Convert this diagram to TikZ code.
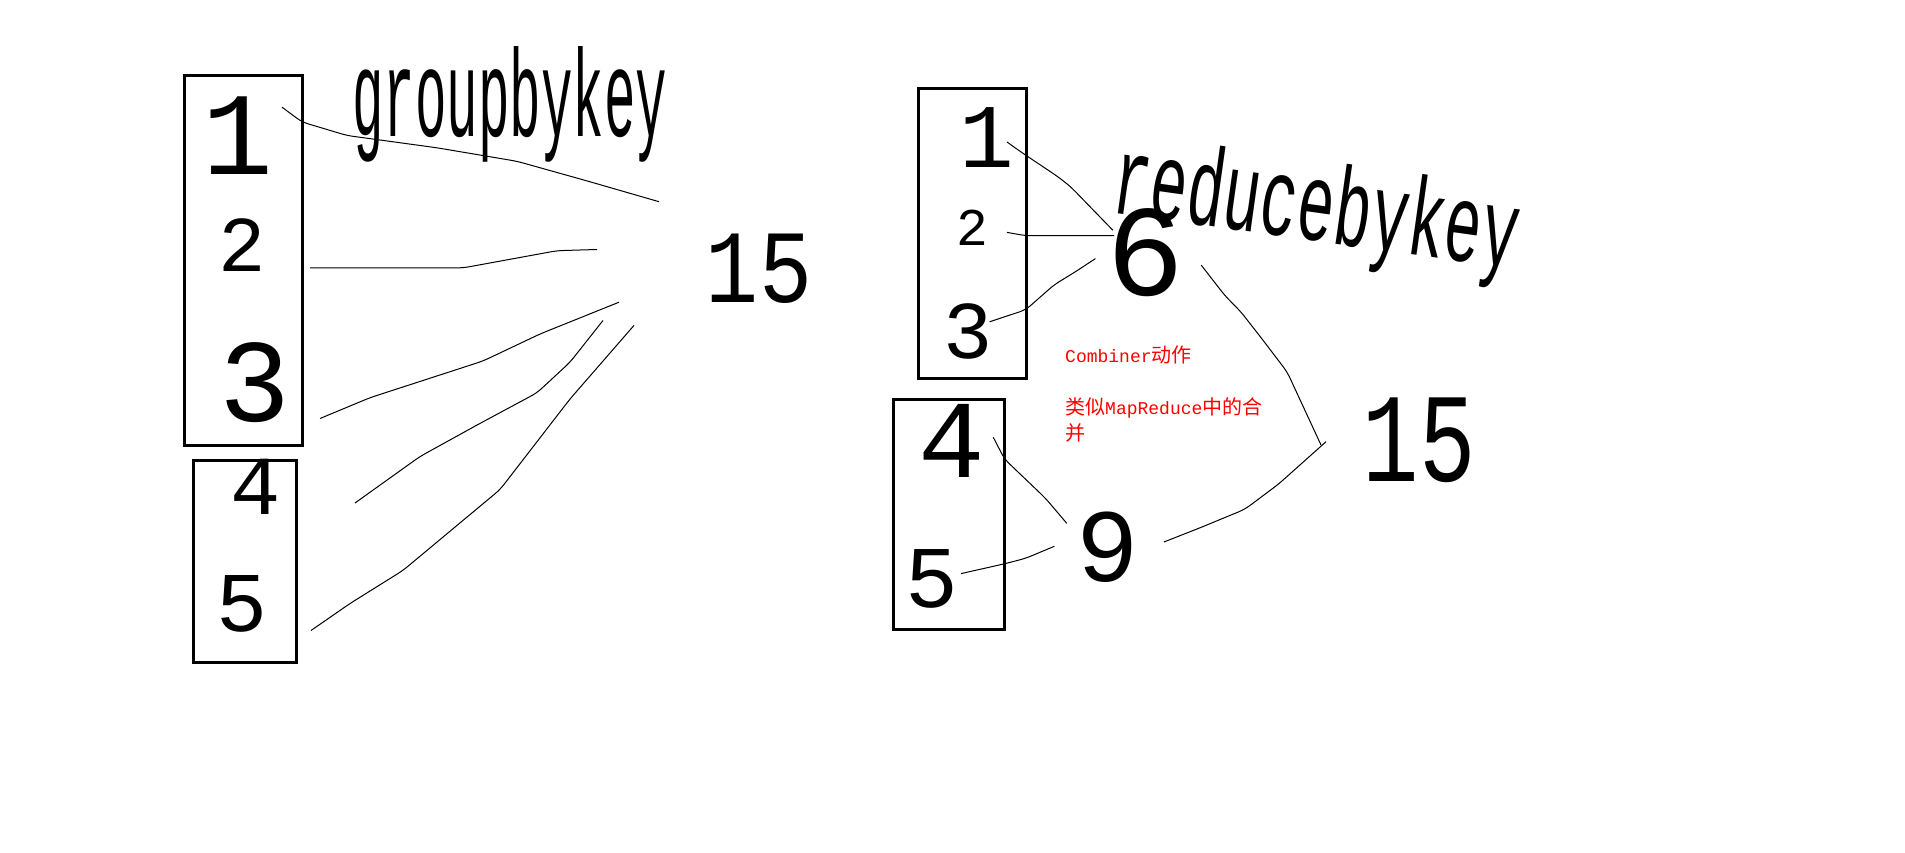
\documentclass[tikz,border=0pt]{standalone}
\usepackage{fontspec}
\setmainfont{Liberation Mono}
\newfontfamily\cjk{Noto Sans CJK SC}
\newfontfamily\hand{Liberation Mono}
\newcommand{\hs}[1]{\fontsize{#1}{#1}\selectfont\hand}
\newcommand{\zh}[1]{{\fontsize{20}{26}\selectfont\cjk #1}}
\begin{document}
\begin{tikzpicture}[x=1pt,y=-1pt,
  grp/.style={draw=black,line width=3pt,inner sep=0pt,outer sep=0pt},
  dig/.style={inner sep=0pt,outer sep=0pt,text=black},
  conn/.style={draw=black,line width=1pt,rounded corners=6pt},
  note/.style={text=red,align=left,anchor=north west,inner sep=0pt}]
\useasboundingbox (0,0) rectangle (1905,853);
\fill[white] (0,0) rectangle (1905,853);
% groups
\node[grp,minimum width=118,minimum height=370] (b1) at (243,260.5) {};
\node[grp,minimum width=103,minimum height=202] (b2) at (244.5,561) {};
\node[grp,minimum width=108,minimum height=290] (b3) at (972.7,233.5) {};
\node[grp,minimum width=111,minimum height=230] (b4) at (949,514) {};
% left digits
\node[dig,font=\hs{118}] (a1) at (238,135.5) {1};
\node[dig,font=\hs{79}] (a2) at (242,244.6) {2};
\node[dig,font=\hs{118}] (a3) at (255,383) {3};
\node[dig,font=\hs{84}] (a4) at (256,487) {4};
\node[dig,font=\hs{85}] (a5) at (242,603.5) {5};
\node[dig,font=\hs{104},xscale=0.85] (s1) at (759,269) {15};
\node[dig,font=\hs{60},xscale=0.875,yscale=2.07] (gk) at (510,104) {groupbykey};
% right digits
\node[dig,font=\hs{91}] (c1) at (987,137.6) {1};
\node[dig,font=\hs{53}] (c2) at (972,228) {2};
\node[dig,font=\hs{82}] (c3) at (968.4,331.6) {3};
\node[dig,font=\hs{111}] (c4) at (952.2,440.6) {4};
\node[dig,font=\hs{88}] (c5) at (932.3,579) {5};
\node[dig,font=\hs{130}] (six) at (1145.2,253) {6};
\node[dig,font=\hs{104}] (nine) at (1107.8,547.4) {9};
\node[dig,font=\hs{127},xscale=0.74] (s2) at (1419,440.6) {15};
\node[dig,font=\hs{62},rotate=-8,yscale=1.8] (rk) at (1316,212) {reducebykey};
% note
\node[note,font=\fontsize{18}{26}\selectfont] (nt) at (1065,346)
  {Combiner\zh{动作}\\[26pt]\zh{类似}MapReduce\zh{中的合}\\\zh{并}};
% connector endpoints
\coordinate (l1s) at (282,107.2); \coordinate (l1e) at (659,201.7);
\coordinate (l2s) at (310,267.9); \coordinate (l2e) at (597,249.5);
\coordinate (l3s) at (320,418.5); \coordinate (l3e) at (619,302.2);
\coordinate (l4s) at (355,503); \coordinate (l4e) at (603,320.5);
\coordinate (l5s) at (311,630.5); \coordinate (l5e) at (634,325.4);
\coordinate (r1s) at (1007,142); \coordinate (r1e) at (1112.8,230.2);
\coordinate (r2s) at (1007,232.4); \coordinate (r2e) at (1114,235.7);
\coordinate (r3s) at (989.6,321.8); \coordinate (r3e) at (1095.4,258.6);
\coordinate (r4s) at (993.3,437.3); \coordinate (r4e) at (1066.8,523.4);
\coordinate (r5s) at (961,573.6); \coordinate (r5e) at (1054.3,546.3);
\coordinate (r6s) at (1201.2,265.1); \coordinate (r6e) at (1321,445);
\coordinate (r7s) at (1163.9,542); \coordinate (r7e) at (1326,441.7);
% left connectors
\draw[conn] (l1s) -- (302,122) -- (347,135.5) -- (437,147.8) -- (517,161.3) -- (587,180.9) -- (l1e);
\draw[conn] (l2s) -- (463,267.9) -- (557,250.7) -- (l2e);
\draw[conn] (l3s) -- (370,397.7) -- (483,361) -- (540,334) -- (l3e);
\draw[conn] (l4s) -- (420,456.5) -- (480,423.4) -- (537,392.8) -- (570,362.2) -- (l4e);
\draw[conn] (l5s) -- (350,603.5) -- (403,570.4) -- (500,489.6) -- (570,399) -- (l5e);
% right connectors
\draw[conn] (r1s) -- (1020.7,151.8) -- (1058,176.8) -- (1070.5,186.6) -- (r1e);
\draw[conn] (r2s) -- (1025.7,235.7) -- (r2e);
\draw[conn] (r3s) -- (1025.7,309.8) -- (1054.3,284.7) -- (1075.5,271.7) -- (r3e);
\draw[conn] (r4s) -- (1004.5,459.1) -- (1045.6,498.4) -- (r4e);
\draw[conn] (r5s) -- (1004.5,563.8) -- (1025.7,558.3) -- (r5e);
\draw[conn] (r6s) -- (1224.9,295.6) -- (1241,312) -- (1262.2,339.2) -- (1287.1,371.9) -- (r6e);
\draw[conn] (r7s) -- (1200,527.8) -- (1244.8,509.3) -- (1278.4,484.2) -- (r7e);
\end{tikzpicture}
\end{document}
